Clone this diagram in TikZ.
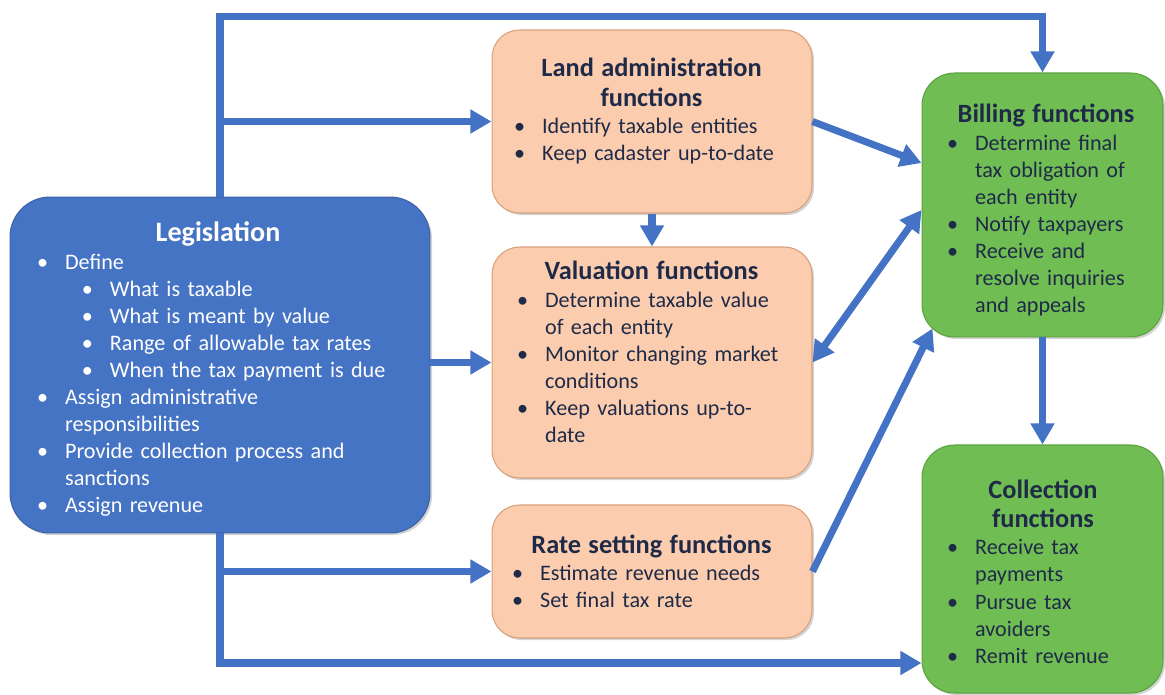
\documentclass[tikz,border=0pt]{standalone}
\usepackage{fontspec}
\setmainfont{Carlito}
\usetikzlibrary{arrows.meta,calc,shadows}
\definecolor{flowblue}{HTML}{4472C4}
\definecolor{legfill}{HTML}{4674C4}
\definecolor{legline}{HTML}{3A62A8}
\definecolor{peachfill}{HTML}{FBCDAE}
\definecolor{peachline}{HTML}{D9A07C}
\definecolor{greenfill}{HTML}{70BD53}
\definecolor{greenline}{HTML}{5CA340}
\definecolor{navytext}{HTML}{1F2A48}
\newlength{\bhang}
\setlength{\bhang}{16pt}
\newcommand{\bitem}{\par\noindent\hangindent=\bhang\hangafter=1\makebox[\bhang][l]{\textbullet}}
\newcommand{\subbit}{\par\noindent\hangindent=\dimexpr\bhang+25.5pt\relax\hangafter=1\hspace*{25.5pt}\makebox[\bhang][l]{\textbullet}}
\newcommand{\boxtitle}[1]{{\centering\fontsize{15}{17}\bfseries #1\par}}
\begin{document}
\begin{tikzpicture}[x=0.02cm,y=-0.02cm,
    boxbase/.style={draw,line width=0.6pt,inner sep=0pt,drop shadow={shadow xshift=1.2pt,shadow yshift=-1.2pt,opacity=0.35}},
    legbox/.style={boxbase,fill=legfill,draw=legline,rounded corners=0.8cm},
    peachbox/.style={boxbase,fill=peachfill,draw=peachline,rounded corners=0.55cm,minimum width=6.4cm},
    greenbox/.style={boxbase,fill=greenfill,draw=greenline,rounded corners=0.65cm,minimum width=4.82cm},
    boxtext/.style={anchor=base,inner sep=0pt,align=left,text=navytext,font=\fontsize{12.6}{15.4}\selectfont},
    flow/.style={draw=flowblue,line width=4pt,-{Triangle[length=12pt,width=13pt]}},
    flowboth/.style={flow,{Triangle[length=12pt,width=13pt]}-{Triangle[length=12pt,width=13pt]}}]
  \useasboundingbox (0,0) rectangle (1165,695);
  % boxes
  \node[legbox,minimum width=8.4cm,minimum height=6.72cm] (leg) at (220,365) {};
  \node[peachbox,minimum height=3.66cm] (land) at (652,121.5) {};
  \node[peachbox,minimum height=4.62cm] (val) at (652,362.5) {};
  \node[peachbox,minimum height=2.66cm] (rate) at (652,571.5) {};
  \node[greenbox,minimum height=5.28cm] (bill) at (1042.5,205) {};
  \node[greenbox,minimum height=4.96cm] (coll) at (1042.5,569) {};
  % texts
  \node[boxtext,text=white,text width=7.24cm] (legt) at (218,242) {%
    {\centering\fontsize{16}{18}\bfseries Legislation\par}
    \bitem Define
    \subbit What is taxable
    \subbit What is meant by value
    \subbit Range of allowable tax rates
    \subbit When the tax payment is due
    \bitem Assign administrative\newline responsibilities
    \bitem Provide collection process and\newline sanctions
    \bitem Assign revenue\par};
  \node[boxtext,text width=5.5cm] (landt) at (651.5,77) {%
    \boxtitle{Land administration\\functions}
    \bitem Identify taxable entities
    \bitem Keep cadaster up-to-date\par};
  \node[boxtext,text width=5.38cm] (valt) at (651.5,280) {%
    \boxtitle{Valuation functions}
    \bitem Determine taxable value\newline of each entity
    \bitem Monitor changing market\newline conditions
    \bitem Keep valuations up-to-\newline date\par};
  \node[boxtext,text width=5.58cm] (ratet) at (651.5,553) {%
    \boxtitle{Rate setting functions}
    \bitem Estimate revenue needs
    \bitem Set final tax rate\par};
  \node[boxtext,text width=3.96cm] (billt) at (1046,123) {%
    \boxtitle{Billing functions}
    \bitem Determine final\newline tax obligation of\newline each entity
    \bitem Notify taxpayers
    \bitem Receive and\newline resolve inquiries\newline and appeals\par};
  \node[boxtext,text width=3.84cm] (collt) at (1043,498) {%
    \boxtitle{Collection\\functions}
    \bitem Receive tax\newline payments
    \bitem Pursue tax\newline avoiders
    \bitem Remit revenue\par};
  % connectors
  \draw[flow] (leg.north) -- ++(0,-180) -| (bill.north);
  \draw[flow] (leg.north |- land.west) -- (land.west);
  \draw[flow] (leg.east |- val.west) -- (val.west);
  \draw[flow] (leg.south) |- ($(coll.west)+(0,94)$);
  \draw[flow] (leg.south |- rate.west) -- (rate.west);
  \draw[flow] (land.south) -- (val.north);
  \draw[flow] (land.east) -- ($(bill.west)+(0,-42)$);
  \draw[flowboth] ($(bill.west)+(0,5)$) -- (val.east);
  \draw[flow] (rate.east) -- ($(bill.south west)+(11,-9)$);
  \draw[flow] (bill.south) -- (coll.north);
\end{tikzpicture}
\end{document}
